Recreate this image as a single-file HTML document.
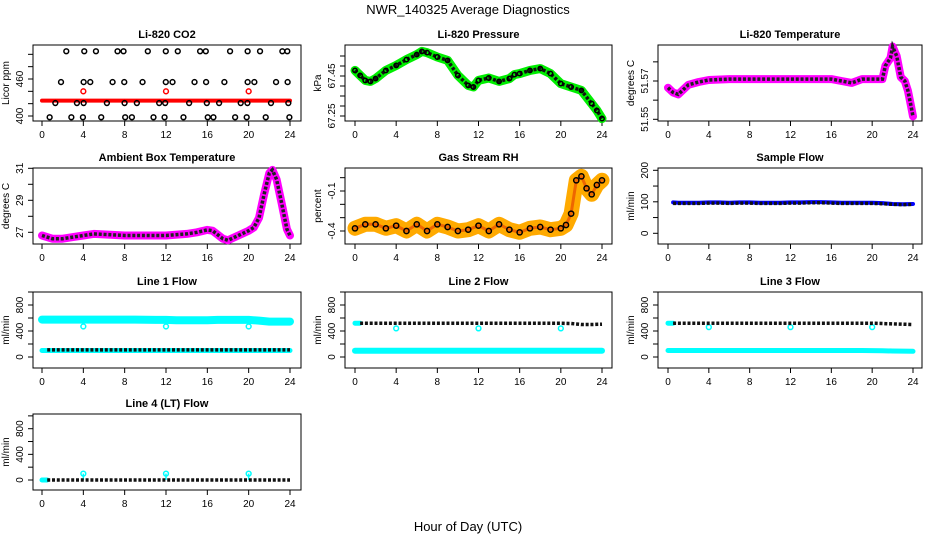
<!DOCTYPE html>
<html><head><meta charset="utf-8"><style>
body{margin:0;background:#fff;}
svg{display:block;font-family:"Liberation Sans",sans-serif;}
</style></head><body>
<svg id="chart" width="936" height="540" viewBox="0 0 936 540">
<text x="468" y="14" text-anchor="middle" font-size="13">NWR_140325  Average Diagnostics</text>
<text x="468" y="531" text-anchor="middle" font-size="13">Hour of Day (UTC)</text>
</svg>
<script>
// ---- data ----
const hourTicks = [0,4,8,12,16,20,24];
const flowH = [0.5,1,2,3,4,5,6,7,8,9,10,11,12,13,14,15,16,17,18,19,20,21,22,23,24];
const cyanH = [0,1,2,3,4,5,6,7,8,9,10,11,12,13,14,15,16,17,18,19,20,21,22,23,24];
const calH = [4,12,20];

const co2Top = [2.35,4.09,5.22,7.31,7.89,10.24,11.98,13.14,15.3,15.85,18.2,19.9,21.1,23.26,23.74];
const co2Mid = [1.84,4.03,4.67,6.83,7.96,9.73,11.98,12.63,14.76,15.88,17.65,19.9,20.55,22.65,23.77];
const co2Low = [1.29,3.38,4.03,6.28,7.99,9.18,11.34,11.92,14.24,15.95,17.14,19.23,19.88,22.16,23.84];
const co2Bot = [0.74,2.84,3.96,5.73,8.05,8.7,10.79,11.86,13.69,16.04,16.59,18.69,19.81,21.65,23.94];
const co2Levels = [505,455,421,398];
const co2Red = 425;
const co2RedCal = 440;

const presH = [0,0.5,1,1.5,2,3,4,5,6,6.5,7,8,9,10,11,11.5,12,13,14,15,15.5,16,17,18,19,20,21,22,23,23.5,24];
const presV = [67.478,67.453,67.428,67.423,67.437,67.478,67.503,67.532,67.557,67.573,67.567,67.545,67.528,67.453,67.403,67.395,67.428,67.44,67.423,67.437,67.457,67.462,67.478,67.487,67.462,67.412,67.395,67.378,67.312,67.278,67.237];

const tempH = [0,0.5,1,1.5,2,3,4,6,8,10,12,14,16,17,18,19,21,21.3,21.8,22,22.4,22.8,23.2,23.5,23.8,24];
const tempV = [51.5665,51.564,51.563,51.5655,51.568,51.5695,51.5705,51.571,51.571,51.571,51.571,51.571,51.571,51.570,51.569,51.571,51.571,51.578,51.582,51.588,51.583,51.572,51.570,51.565,51.557,51.5515];

const ambH = [0,1,2,3,4,5,8,12,14,15,16,16.5,17,17.5,18,19,20,20.5,21,21.5,22,22.3,22.7,23.2,23.7,24];
const ambV = [26.8,26.6,26.6,26.7,26.8,26.9,26.8,26.8,26.9,27.0,27.15,27.1,26.85,26.6,26.5,26.8,27.1,27.3,27.9,29.4,30.7,30.9,30.3,28.8,27.2,26.8];

const rhH = [0,1,2,3,4,5,6,7,8,9,10,11,12,13,14,15,16,17,18,19,20,20.5,21,21.5,22,22.5,23,23.5,24];
const rhV = [-0.38,-0.35,-0.35,-0.38,-0.36,-0.40,-0.35,-0.40,-0.35,-0.37,-0.40,-0.39,-0.36,-0.40,-0.35,-0.39,-0.41,-0.38,-0.37,-0.39,-0.38,-0.355,-0.27,-0.02,0.01,-0.08,-0.125,-0.055,-0.02];

const sampBlue = [98,97,97,97,98,98,97,98,98,97,97,97,98,98,99,99,98,97,97,97,97,96,93,92,93];
const sampBlack = [95,95,95,95,96,96,95,96,96,95,95,95,96,96,97,97,96,95,95,95,95,94,92,91,92];

const l1Cyan = [575,575,575,575,575,575,575,575,575,575,572,570,570,565,565,565,565,570,570,570,570,560,545,545,545];
const l1CyanLow = [100,100,100,100,100,100,100,100,100,100,100,100,100,100,100,100,100,100,100,100,100,100,100,100,100];
const l1Black = [110,110,110,110,110,110,110,110,110,110,110,110,110,110,110,110,110,110,110,110,110,110,110,110,110];
const l1Cal = 470;

const l2Black = [520,520,520,520,520,520,520,520,520,520,520,520,520,520,520,520,520,520,520,520,520,515,500,500,505];
const l2CyanLow = [95,95,95,95,95,95,95,95,95,95,95,95,95,95,95,95,95,95,95,95,95,95,95,95,95];
const l2Cal = 440;

const l3Black = [520,520,520,520,520,520,520,520,520,520,520,520,520,520,520,520,520,520,520,520,520,515,510,505,500];
const l3CyanLow = [100,100,100,100,100,100,100,100,100,100,100,100,100,100,100,100,100,100,100,100,98,95,92,90,88];
const l3Cal = 460;

const l4Black = [0,0,0,0,0,0,0,0,0,0,0,0,0,0,0,0,0,0,0,0,0,0,0,0,0];
const l4Cal = 100;

// ---- layout ----
const NS = "http://www.w3.org/2000/svg";
const svg = document.getElementById('chart');
const cols = [{b0:33,b1:301,x0:42,x1:290},{b0:345,b1:612,x0:355,x1:602},{b0:658,b1:922,x0:668,x1:913}];
const rows = [45,168,292,414];
const PH = 76;

function mk(tag, attrs, parent){
  const e = document.createElementNS(NS, tag);
  for (const k in attrs) e.setAttribute(k, attrs[k]);
  (parent||svg).appendChild(e);
  return e;
}

function panel(name, title, ytitle, r, c, cal, yTicks, yLabels){
  const C = cols[c], top = rows[r];
  const g = mk('g', {});
  
  
  const xs = h => C.x0 + (C.x1 - C.x0) * h / 24;
  const ys = v => top + cal[1] + (v - cal[0]) * (cal[3] - cal[1]) / (cal[2] - cal[0]);
  const t = mk('text', {x:(C.b0+C.b1)/2, y:top-7, 'text-anchor':'middle', 'font-size':11, 'font-weight':'bold'}, g);
  t.textContent = title;
  
  
  const box = mk('rect', {x:C.b0, y:top, width:C.b1-C.b0, height:PH, fill:'none', stroke:'#000', 'stroke-width':1}, g);
  
  
  const xa = mk('g', {}, g);
  
  
  hourTicks.forEach(h => {
    mk('line', {x1:xs(h), x2:xs(h), y1:top+PH, y2:top+PH+5, stroke:'#000'}, xa);
    const l = mk('text', {x:xs(h), y:top+PH+17, 'text-anchor':'middle', 'font-size':10}, xa);
    l.textContent = h;
  });
  const ya = mk('g', {}, g);
  
  
  mk('line', {x1:C.b0, x2:C.b0, y1:Math.max(ys(yTicks[0]),ys(yTicks[yTicks.length-1])), y2:Math.min(ys(yTicks[0]),ys(yTicks[yTicks.length-1])), stroke:'#000'}, ya);
  yTicks.forEach(v => mk('line', {x1:C.b0-5, x2:C.b0, y1:ys(v), y2:ys(v), stroke:'#000'}, ya));
  yLabels.forEach(v => {
    const yy = ys(v), xx = C.b0 - 10;
    const l = mk('text', {x:xx, y:yy, 'text-anchor':'middle', 'font-size':10, transform:`rotate(-90 ${xx} ${yy})`}, ya);
    l.textContent = v;
  });
  const yt = mk('text', {x:C.b0-24, y:top+PH/2, 'text-anchor':'middle', 'font-size':10, transform:`rotate(-90 ${C.b0-24} ${top+PH/2})`}, g);
  yt.textContent = ytitle;
  
  
  return {g, xs, ys};
}

function band(P, hs, vs, color, w, nm){
  const d = hs.map((h,i)=>(i?'L':'M')+P.xs(h).toFixed(1)+','+P.ys(vs[i]).toFixed(1)).join(' ');
  const p = mk('path', {d, fill:'none', stroke:color, 'stroke-width':w, 'stroke-linecap':'round', 'stroke-linejoin':'round'}, P.g);
  
  
  return p;
}
function ringLine(P, hs, vs, color, nm){
  const d = hs.map((h,i)=>(i?'L':'M')+P.xs(h).toFixed(1)+','+P.ys(vs[i]).toFixed(1)).join(' ');
  const p = mk('path', {d, fill:'none', stroke:color, 'stroke-width':3.5, 'stroke-dasharray':'3 1.8'}, P.g);
  
  
}
function pts(P, hs, vs, color, nm, r){
  hs.forEach((h,i)=>{
    const c = mk('circle', {cx:P.xs(h), cy:P.ys(Array.isArray(vs)?vs[i]:vs), r:r||2.4, fill:'none', stroke:color, 'stroke-width':1.5}, P.g);
    
    
  });
}

// CO2
let P = panel('co2','Li-820 CO2','Licor ppm',0,0,[400,71,460,34],[400,420,440,460,480,500],[400,460]);
band(P,[0,24],[co2Red,co2Red],'#ff0000',4,'co2-red-band');
pts(P,calH,co2RedCal,'#ff0000','co2-cal-point');
[co2Top,co2Mid,co2Low,co2Bot].forEach((arr,k)=>pts(P,arr,co2Levels[k],'#000','co2-point'));

// Pressure
P = panel('pressure','Li-820 Pressure','kPa',0,1,[67.25,71,67.45,31],[67.25,67.3,67.35,67.4,67.45,67.5,67.55],[67.25,67.45]);
band(P,presH,presV,'#00ee00',9,'pressure-band');
ringLine(P,presH,presV,'#111','pressure-avg-line');
pts(P,presH,presV,'#000','pressure-point',2.2);

// Li-820 temperature
P = panel('li820-temp','Li-820 Temperature','degrees C',0,2,[51.55,74.3,51.57,36],[51.55,51.56,51.57,51.58],[51.55,51.57]);
band(P,tempH,tempV,'#ff00ff',8,'li820-temp-band');
ringLine(P,tempH,tempV,'#222','li820-temp-avg-line');

// Ambient
P = panel('ambient-temp','Ambient Box Temperature','degrees C',1,0,[27,64.3,31,0.3],[27,28,29,30,31],[27,29,31]);
band(P,ambH,ambV,'#ff00ff',8,'ambient-temp-band');
ringLine(P,ambH,ambV,'#222','ambient-temp-avg-line');

// RH
P = panel('gas-rh','Gas Stream RH','percent',1,1,[-0.4,63,-0.1,23],[-0.4,-0.3,-0.2,-0.1,0],[-0.4,-0.1]);
band(P,rhH,rhV,'#ffaa00',15,'gas-rh-band');
band(P,rhH,rhV,'#ee6600',3,'gas-rh-core');
pts(P,rhH,rhV,'#000','gas-rh-point',2.6);

// Sample flow
P = panel('sample-flow','Sample Flow','ml/min',1,2,[0,65.3,200,2.3],[0,50,100,150,200],[0,100,200]);
band(P,flowH,sampBlue,'#0000ff',4,'sample-flow-band');
ringLine(P,flowH,sampBlack,'#111','sample-flow-avg-line');

const fT = [0,200,400,600,800,1000], fL = [0,400,800];
// Line 1
P = panel('line1-flow','Line 1 Flow','ml/min',2,0,[0,65,800,13],fT,fL);
band(P,cyanH,l1Cyan,'#00ffff',8,'line1-flow-band');
band(P,cyanH,l1CyanLow,'#00ffff',5,'line1-flow-low');
pts(P,calH,l1Cal,'#00ffff','line1-cal-point');
ringLine(P,flowH,l1Black,'#111','line1-avg-line');
// Line 2
P = panel('line2-flow','Line 2 Flow','ml/min',2,1,[0,65,800,13],fT,fL);
band(P,cyanH,l2CyanLow,'#00ffff',6,'line2-flow-band');
band(P,[0,0.5],[520,520],'#00ffff',5,'line2-flow-start');
pts(P,calH,l2Cal,'#00ffff','line2-cal-point');
ringLine(P,flowH,l2Black,'#111','line2-avg-line');
// Line 3
P = panel('line3-flow','Line 3 Flow','ml/min',2,2,[0,65,800,13],fT,fL);
band(P,cyanH,l3CyanLow,'#00ffff',5,'line3-flow-band');
band(P,[0,0.5],[520,520],'#00ffff',5,'line3-flow-start');
pts(P,calH,l3Cal,'#00ffff','line3-cal-point');
ringLine(P,flowH,l3Black,'#111','line3-avg-line');
// Line 4
P = panel('line4-flow','Line 4 (LT) Flow','ml/min',3,0,[0,66,800,14.7],fT,fL);
band(P,[0,0.5],[0,0],'#00ffff',5,'line4-flow-start');
calH.forEach(h=>{ const l=mk('line',{x1:P.xs(h),x2:P.xs(h),y1:P.ys(0),y2:P.ys(l4Cal),stroke:'#00ffff','stroke-width':1.5},P.g);
  
   });
pts(P,calH,l4Cal,'#00ffff','line4-cal-point');
ringLine(P,flowH,l4Black,'#111','line4-avg-line');
</script>
</body></html>
